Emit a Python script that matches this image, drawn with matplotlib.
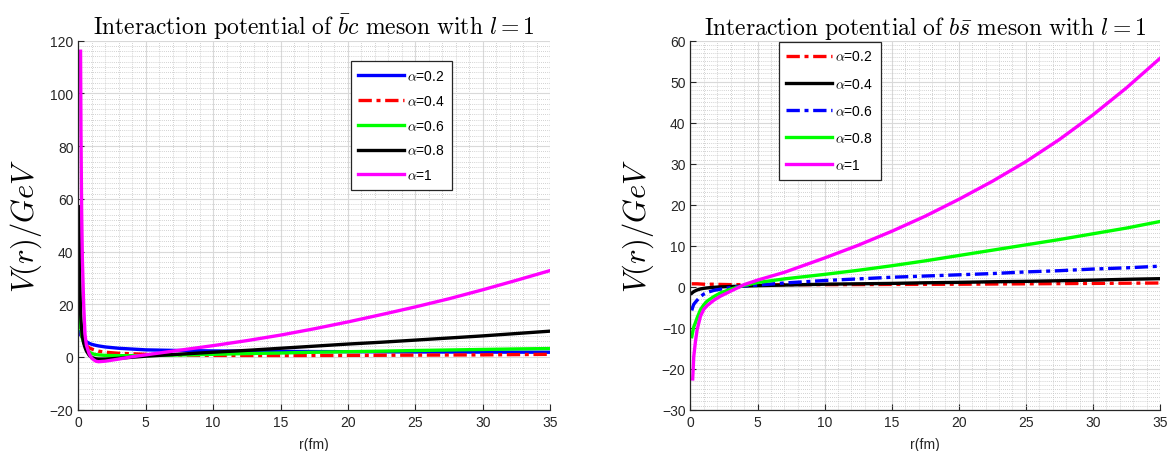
import numpy as np
import matplotlib
matplotlib.use("Agg")
import matplotlib.pyplot as plt
from matplotlib.ticker import MultipleLocator

plt.rcParams['font.family'] = ['Liberation Sans', 'DejaVu Sans']
plt.rcParams['mathtext.fontset'] = 'cm'

# ---- b̄c meson, l = 1 ----
r_bc = [0.05, 0.1, 0.17, 0.2, 0.25, 0.3, 0.4, 0.5, 0.6, 0.8, 1.0, 1.3, 1.5,
        2, 3, 4, 5, 7, 10, 12.5, 15, 17.5, 20, 22.5, 25, 27.5, 30, 32.5, 35]
v_bc_a02 = [9.5, 9.0, 8.4, 8.2, 7.8, 7.5, 6.8, 6.2, 5.8, 5.2, 4.8, 4.4, 4.2,
            3.8, 3.3, 3.0, 2.7, 2.5, 2.3, 2.2, 2.1, 2.05, 2.0, 1.95, 1.9, 1.87,
            1.85, 1.82, 1.8]
v_bc_a04 = [15.7, 12.5, 10.0, 9.2, 8.2, 7.3, 6.0, 5.0, 4.3, 3.5, 3.0, 2.5, 2.2,
            1.8, 1.4, 1.2, 1.0, 0.8, 0.6, 0.57, 0.55, 0.57, 0.6, 0.65, 0.7, 0.75,
            0.8, 0.9, 1.0]
v_bc_a06 = [29, 19, 12, 10.5, 8.5, 7.0, 5.5, 4.3, 3.3, 2.0, 1.3, 0.9, 0.8,
            0.6, 0.5, 0.5, 0.5, 0.7, 1.0, 1.3, 1.5, 1.8, 2.0, 2.2, 2.45, 2.65,
            2.85, 3.05, 3.2]
v_bc_a08 = [57, 31, 17, 14, 10.5, 8.0, 5.3, 3.6, 2.3, 0.7, -0.2, -0.7, -0.8,
            -0.8, -0.5, -0.1, 0.3, 0.9, 1.8, 2.5, 3.3, 4.1, 4.9, 5.6, 6.4, 7.2,
            8.0, 8.9, 9.8]
v_bc_a10 = [np.nan, np.nan, 116, 85, 55, 38, 20, 8.5, 4.5, 1.3, -0.5, -1.6, -1.8,
            -1.6, -0.8, 0.1, 0.8, 2.2, 4.3, 6.2, 8.3, 10.7, 13.3, 16.1, 19.0,
            22.1, 25.5, 29.1, 32.8]

# ---- bs̄ meson, l = 1 ----
r_bs = [0.1, 0.17, 0.25, 0.37, 0.5, 0.75, 1.0, 1.25, 1.75, 2.25, 3, 4, 5, 7,
        10, 12.5, 15, 17.5, 20, 22.5, 25, 27.5, 30, 32.5, 35]
v_bs_a02 = [0.7, 0.7, 0.7, 0.7, 0.7, 0.65, 0.6, 0.6, 0.6, 0.55, 0.5, 0.5, 0.5,
            0.5, 0.5, 0.52, 0.55, 0.57, 0.6, 0.65, 0.7, 0.75, 0.8, 0.85, 0.9]
v_bs_a04 = [-1.6, -1.4, -1.2, -1.0, -0.8, -0.55, -0.4, -0.3, -0.15, -0.05, 0.05,
            0.15, 0.25, 0.4, 0.6, 0.7, 0.8, 0.95, 1.05, 1.2, 1.3, 1.45, 1.6, 1.8,
            1.95]
v_bs_a06 = [-5.8, -5.0, -4.3, -3.8, -3.3, -2.4, -1.8, -1.4, -0.9, -0.6, -0.2,
            0.2, 0.4, 0.9, 1.5, 1.9, 2.3, 2.6, 2.9, 3.2, 3.6, 3.9, 4.3, 4.6, 5.0]
v_bs_a08 = [-12.2, -11.0, -9.8, -8.8, -7.6, -5.6, -4.4, -3.5, -2.4, -1.5, -0.6,
            0.3, 1.0, 1.9, 3.0, 4.0, 5.1, 6.3, 7.6, 8.9, 10.2, 11.5, 12.9, 14.3,
            15.9]
v_bs_a10 = [np.nan, -22.5, -17, -13.5, -10.5, -7.2, -5.5, -4.6, -3.3, -2.3, -1.1,
            0.5, 1.6, 3.5, 7.0, 10.1, 13.5, 17.2, 21.3, 25.7, 30.5, 35.9, 41.9,
            48.5, 55.7]

labels = [r'$\alpha$=0.2', r'$\alpha$=0.4', r'$\alpha$=0.6', r'$\alpha$=0.8', r'$\alpha$=1']

BLUE, RED, GREEN, BLACK, MAGENTA = '#0000ff', '#ff0000', '#00ff00', '#000000', '#ff00ff'
DASHDOT = (0, (4, 1.4, 1.2, 1.4))
LW = 2.4

fig = plt.figure(figsize=(11.7, 4.52), dpi=100)
ax1 = fig.add_axes([0.0669, 0.0914, 0.4034, 0.8164])
ax2 = fig.add_axes([0.5901, 0.0914, 0.4014, 0.8164])


def style_axes(ax, ylim, ymajor, yminor):
    ax.set_xlim(0, 35)
    ax.set_ylim(*ylim)
    ax.xaxis.set_major_locator(MultipleLocator(5))
    ax.xaxis.set_minor_locator(MultipleLocator(1))
    ax.yaxis.set_major_locator(MultipleLocator(ymajor))
    ax.yaxis.set_minor_locator(MultipleLocator(yminor))
    ax.grid(True, which='major', color='#d9d9d9', linewidth=0.8, linestyle='-')
    ax.grid(True, which='minor', color='#c4c4c4', linewidth=0.6, linestyle=(0, (1, 1.5)))
    ax.set_axisbelow(True)
    for s in ('top', 'right'):
        ax.spines[s].set_visible(False)
    for s in ('left', 'bottom'):
        ax.spines[s].set_color('#262626')
        ax.spines[s].set_linewidth(0.9)
    ax.tick_params(which='major', direction='in', length=4, width=0.8,
                   labelsize=10, colors='#262626')
    ax.tick_params(which='minor', length=0)
    ax.set_xlabel('r(fm)', fontsize=10, color='#262626', labelpad=6)
    ax.set_ylabel(r'$V(r)/GeV$', fontsize=22, labelpad=4)


def add_legend(ax, anchor, spacing):
    leg = ax.legend(loc='upper left', bbox_to_anchor=anchor, fontsize=10,
                    handlelength=3.3, handletextpad=0.2, labelspacing=spacing,
                    borderpad=0.55, borderaxespad=0, fancybox=False, framealpha=1,
                    edgecolor='#262626')
    leg.get_frame().set_linewidth(0.9)
    return leg


# Left panel
ax1.plot(r_bc, v_bc_a02, color=BLUE, lw=LW, label=labels[0])
ax1.plot(r_bc, v_bc_a04, color=RED, lw=LW, linestyle=DASHDOT, label=labels[1])
ax1.plot(r_bc, v_bc_a06, color=GREEN, lw=LW, label=labels[2])
ax1.plot(r_bc, v_bc_a08, color=BLACK, lw=LW, label=labels[3])
ax1.plot(r_bc, v_bc_a10, color=MAGENTA, lw=LW, label=labels[4])
style_axes(ax1, (-20, 120), 20, 2)
ax1.set_title(r'$\mathrm{Interaction\ potential\ of\ }\bar{b}c\mathrm{\ meson\ with\ }l=1$',
              fontsize=17, pad=5)
add_legend(ax1, (0.577, 0.944), 0.78)

# Right panel
ax2.plot(r_bs, v_bs_a02, color=RED, lw=LW, linestyle=DASHDOT, label=labels[0])
ax2.plot(r_bs, v_bs_a04, color=BLACK, lw=LW, label=labels[1])
ax2.plot(r_bs, v_bs_a06, color=BLUE, lw=LW, linestyle=DASHDOT, label=labels[2])
ax2.plot(r_bs, v_bs_a08, color=GREEN, lw=LW, label=labels[3])
ax2.plot(r_bs, v_bs_a10, color=MAGENTA, lw=LW, label=labels[4])
style_axes(ax2, (-30, 60), 10, 1)
ax2.set_title(r'$\mathrm{Interaction\ potential\ of\ }b\bar{s}\mathrm{\ meson\ with\ }l=1$',
              fontsize=17, pad=5)
add_legend(ax2, (0.188, 0.997), 0.95)

fig.savefig('out.png', dpi=100, facecolor='white')
